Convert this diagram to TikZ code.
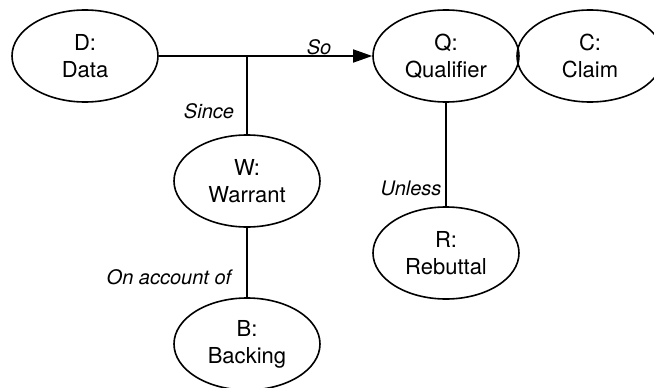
\documentclass[tikz,border=0pt]{standalone}
\usepackage{fontspec}
\setmainfont{TeX Gyre Heros}
\usetikzlibrary{shapes.geometric,arrows.meta}
\begin{document}
\begin{tikzpicture}[x=1pt,y=-1pt,
  ell/.style={ellipse,draw,line width=1.6pt,minimum width=146pt,minimum height=92pt,inner sep=0pt,align=center,font=\fontsize{22}{27}\selectfont},
  lbl/.style={inner sep=0pt,font=\fontsize{20}{22}\selectfont\itshape},
  conn/.style={line width=1.6pt},
  arr/.style={conn,-{Triangle[length=19pt,width=13pt]}}]
\useasboundingbox (0,0) rectangle (654,388);
\node[ell] (D) at (85,56) {D:\\Data};
\node[ell] (Q) at (446,56) {Q:\\Qualifier};
\node[ell] (C) at (590,56) {C:\\Claim};
\node[ell] (W) at (247,181) {W:\\Warrant};
\node[ell] (B) at (247,344) {B:\\Backing};
\node[ell] (R) at (446,253) {R:\\Rebuttal};
\coordinate (J) at (W.north |- D.east);
\draw[arr] (D.east) -- (Q.west);
\draw[conn] (J) -- (W.north);
\draw[conn] (W.south) -- (B.north);
\draw[conn] (Q.south) -- (R.north);
\node[lbl] (so) at (319,47) {So};
\node[lbl] (since) at (209,111) {Since};
\node[lbl] (onacc) at (169,277) {On account of};
\node[lbl] (unless) at (411,188) {Unless};
\end{tikzpicture}
\end{document}
